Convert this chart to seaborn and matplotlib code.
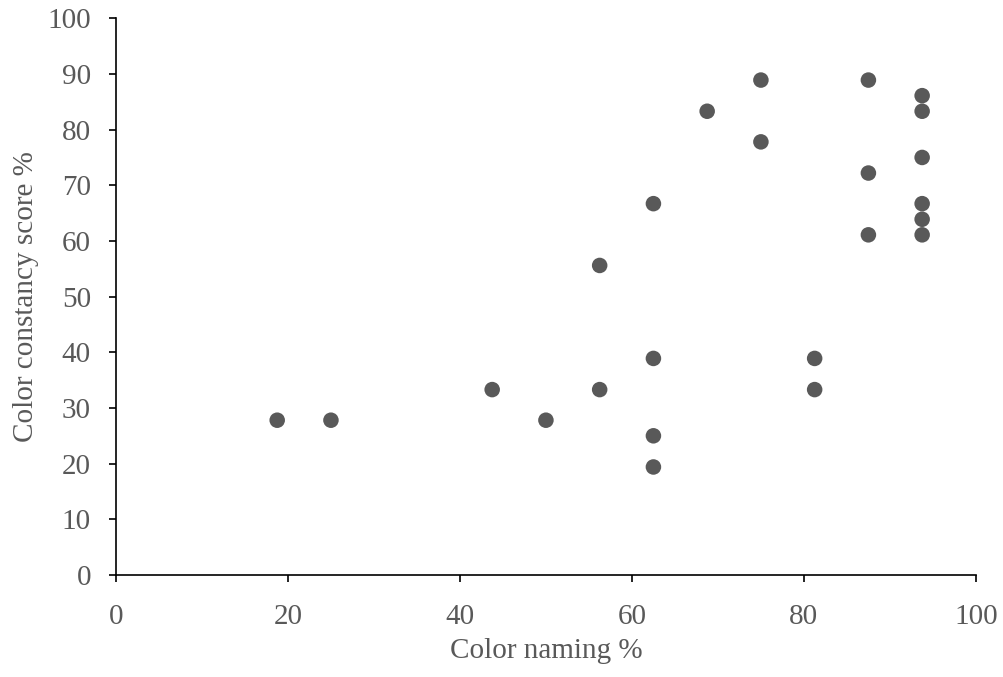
import matplotlib
matplotlib.use("Agg")
import matplotlib.pyplot as plt
import seaborn as sns
import pandas as pd

naming = [18.75, 25, 43.75, 50, 56.25, 56.25, 62.5, 62.5, 62.5, 62.5, 68.75, 75, 75,
          81.25, 81.25, 87.5, 87.5, 87.5, 93.75, 93.75, 93.75, 93.75, 93.75, 93.75]
constancy = [27.8, 27.8, 33.3, 27.8, 33.3, 55.6, 66.7, 38.9, 25.0, 19.4, 83.3, 88.9, 77.8,
             38.9, 33.3, 88.9, 72.2, 61.1, 86.1, 83.3, 75.0, 66.7, 63.9, 61.1]
x_ticks = [0, 20, 40, 60, 80, 100]
y_ticks = [0, 10, 20, 30, 40, 50, 60, 70, 80, 90, 100]

df = pd.DataFrame({"Color naming %": naming, "Color constancy score %": constancy})

sns.set_theme(style="ticks")
plt.rcParams['font.family'] = ['Liberation Serif', 'DejaVu Serif']

fig = plt.figure(figsize=(10.04, 6.77), dpi=100)
ax = fig.add_axes([0.1155, 0.1507, 0.8565, 0.8223])
sns.scatterplot(data=df, x="Color naming %", y="Color constancy score %", ax=ax,
                color="#595959", s=125, edgecolor="none", linewidth=0)
ax.set_xlim(0, 100)
ax.set_ylim(0, 100)
ax.set_xticks(x_ticks)
ax.set_yticks(y_ticks)
ax.tick_params(axis='both', labelsize=21, labelcolor="#595959", color="black",
               length=5, width=1.2, direction='out')
ax.tick_params(axis='x', pad=16)
ax.tick_params(axis='y', pad=13)
for s in ["top", "right"]:
    ax.spines[s].set_visible(False)
for s in ["left", "bottom"]:
    ax.spines[s].set_color("black")
    ax.spines[s].set_linewidth(1.2)
ax.set_xlabel("Color naming %", fontsize=21, color="#595959", labelpad=6)
ax.set_ylabel("Color constancy score %", fontsize=21, color="#595959", labelpad=6)
fig.savefig("out.png", dpi=100)
